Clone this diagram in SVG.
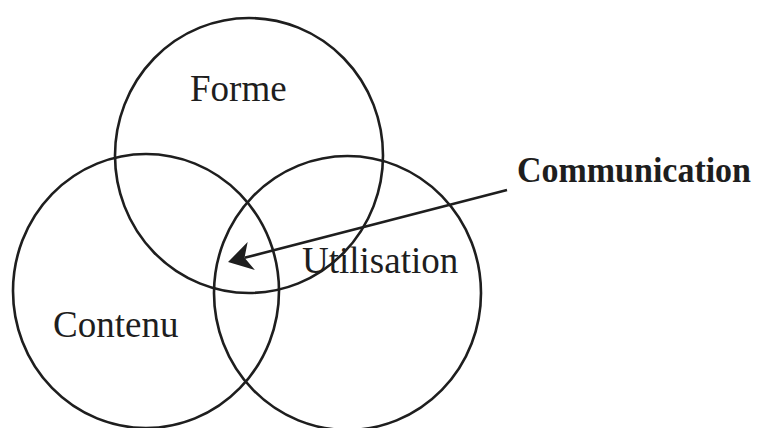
<svg xmlns="http://www.w3.org/2000/svg" width="757" height="428" viewBox="0 0 757 428">
  <style>
    .ring { fill: none; stroke: #1e1e1e; stroke-width: 2.6; }
    .lbl { font-family: "Liberation Serif", "Times New Roman", serif; font-size: 37px; fill: #1e1e1e; }
    .bold { font-weight: bold; font-size: 35px; }
    .conn { stroke: #1e1e1e; stroke-width: 2.6; fill: none; }
  </style>
  <defs>
    <marker id="arrow" viewBox="-1 -16 27 32" markerWidth="27" markerHeight="32" refX="7" refY="0" orient="auto" markerUnits="userSpaceOnUse">
      <path d="M24,0 L0,-14.5 L7,0 L0,14.5 Z" fill="#1e1e1e"/>
    </marker>
  </defs>
  <rect width="757" height="428" fill="#ffffff"/>
  <g id="forme">
    <ellipse class="ring" cx="249" cy="155.5" rx="134" ry="137.5"/>
    <text class="lbl" x="190" y="100.5">Forme</text>
  </g>
  <g id="contenu">
    <ellipse class="ring" cx="146" cy="291" rx="133" ry="137"/>
    <text class="lbl" x="53" y="337">Contenu</text>
  </g>
  <g id="utilisation">
    <ellipse class="ring" cx="347.5" cy="293" rx="133.5" ry="137"/>
    <text class="lbl" x="302" y="273">Utilisation</text>
  </g>
  <g id="communication">
    <text class="lbl bold" x="517" y="182" textLength="234" lengthAdjust="spacingAndGlyphs">Communication</text>
  </g>
  <g id="connectors">
    <path class="conn" d="M507,190 L244.5,257.8" marker-end="url(#arrow)"/>
  </g>
</svg>
